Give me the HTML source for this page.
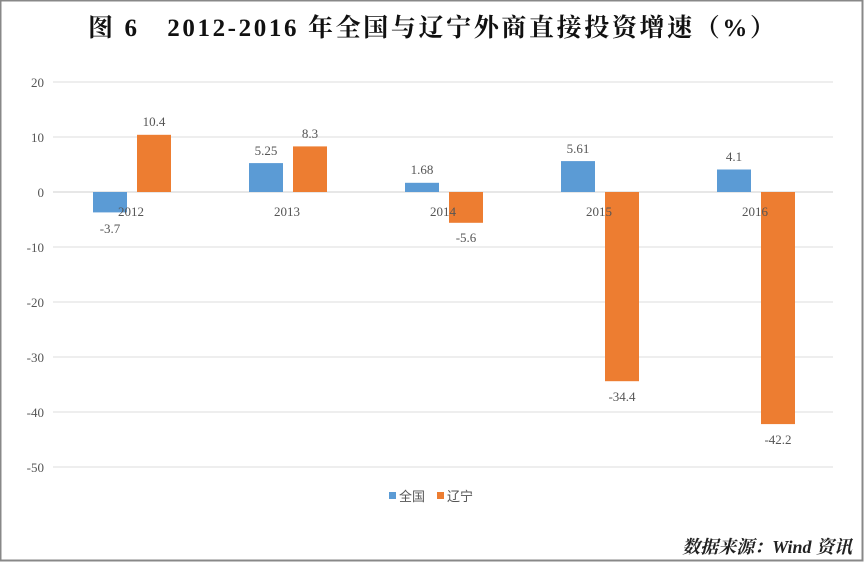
<!DOCTYPE html>
<html><head><meta charset="utf-8"><style>
body{margin:0;background:#fff}
</style></head><body>
<svg width="864" height="562" xmlns="http://www.w3.org/2000/svg" style="display:block">
<rect x="0" y="0" width="864" height="562" fill="#fff"/>
<rect x="0.5" y="0.5" width="862" height="560" fill="none" stroke="#888" stroke-width="2"/>
<text x="88" y="36" textLength="687" lengthAdjust="spacing" font-family="'Liberation Serif','Noto Serif CJK SC',serif" font-weight="bold" font-size="25" fill="#111">图 6　2012-2016 年全国与辽宁外商直接投资增速（%）</text>
<g stroke="#dcdcdc" stroke-width="1">
<line x1="53" x2="833" y1="82" y2="82"/><line x1="53" x2="833" y1="137" y2="137"/>
<line x1="53" x2="833" y1="247" y2="247"/><line x1="53" x2="833" y1="302" y2="302"/>
<line x1="53" x2="833" y1="357" y2="357"/><line x1="53" x2="833" y1="412" y2="412"/>
<line x1="53" x2="833" y1="467" y2="467"/>
</g>
<line x1="53" x2="833" y1="192" y2="192" stroke="#cfcfcf"/>
<g font-family="'Liberation Serif',serif" font-size="13" fill="#555" text-anchor="end">
<text x="44" y="87">20</text><text x="44" y="142">10</text><text x="44" y="197">0</text>
<text x="44" y="252">-10</text><text x="44" y="307">-20</text><text x="44" y="362">-30</text>
<text x="44" y="417">-40</text><text x="44" y="472">-50</text>
</g>
<g fill="#5b9bd5">
<rect x="93" y="192" width="34" height="20.4"/>
<rect x="249" y="163.1" width="34" height="28.9"/>
<rect x="405" y="182.8" width="34" height="9.2"/>
<rect x="561" y="161.1" width="34" height="30.9"/>
<rect x="717" y="169.5" width="34" height="22.5"/>
</g>
<g fill="#ed7d31">
<rect x="137" y="134.8" width="34" height="57.2"/>
<rect x="293" y="146.4" width="34" height="45.6"/>
<rect x="449" y="192" width="34" height="30.8"/>
<rect x="605" y="192" width="34" height="189.2"/>
<rect x="761" y="192" width="34" height="232.1"/>
</g>
<g font-family="'Liberation Serif',serif" font-size="13" fill="#555" text-anchor="middle">
<text x="131" y="216">2012</text><text x="287" y="216">2013</text><text x="443" y="216">2014</text>
<text x="599" y="216">2015</text><text x="755" y="216">2016</text>
<text x="110" y="233">-3.7</text><text x="154" y="126">10.4</text>
<text x="266" y="155">5.25</text><text x="310" y="138">8.3</text>
<text x="422" y="174">1.68</text><text x="466" y="242">-5.6</text>
<text x="578" y="153">5.61</text><text x="622" y="401">-34.4</text>
<text x="734" y="161">4.1</text><text x="778" y="444">-42.2</text>
</g>
<rect x="389" y="492" width="7" height="7" fill="#5b9bd5"/>
<text x="399" y="501" font-family="'Liberation Sans','Noto Sans CJK SC',sans-serif" font-size="13" fill="#555">全国</text>
<rect x="437" y="492" width="7" height="7" fill="#ed7d31"/>
<text x="447" y="501" font-family="'Liberation Sans','Noto Sans CJK SC',sans-serif" font-size="13" fill="#555">辽宁</text>
<text x="852" y="553" text-anchor="end" font-family="'Liberation Serif','Noto Serif CJK SC',serif" font-style="italic" font-weight="bold" font-size="18" fill="#222">数据来源：Wind 资讯</text>
</svg>
</body></html>
